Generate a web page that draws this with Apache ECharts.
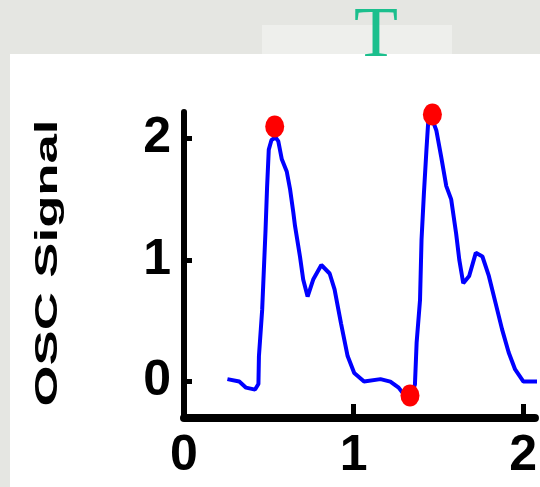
<!DOCTYPE html>
<html>
<head>
<meta charset="utf-8">
<script src="https://cdn.jsdelivr.net/npm/echarts@6/dist/echarts.min.js"></script>
<style>
  html, body {
    margin: 0;
    padding: 0;
    background: #e5e6e2;
  }
  .lite-box {
    position: absolute;
    left: 262px;
    top: 25px;
    width: 190px;
    height: 30px;
    background: #eeefec;
  }
  .panel {
    position: absolute;
    left: 10px;
    top: 54px;
    width: 530px;
    height: 433px;
    background: #ffffff;
  }
  #main {
    position: absolute;
    left: 0;
    top: 0;
    width: 540px;
    height: 487px;
  }
</style>
</head>
<body>
<div class="lite-box"></div>
<div class="panel"></div>
<div id="main"></div>
<script>
// 信号曲线
const sigX = [0.256, 0.326, 0.366, 0.419, 0.439, 0.442, 0.453, 0.461, 0.471, 0.481, 0.490, 0.500, 0.516, 0.540, 0.556, 0.577, 0.606, 0.626, 0.645, 0.655, 0.684, 0.703, 0.729, 0.762, 0.810, 0.859, 0.888, 0.926, 0.965, 1.004, 1.062, 1.159, 1.217, 1.266, 1.304, 1.333, 1.362, 1.368, 1.372, 1.392, 1.401, 1.415, 1.430, 1.440, 1.459, 1.488, 1.517, 1.547, 1.576, 1.605, 1.624, 1.647, 1.682, 1.721, 1.760, 1.798, 1.837, 1.876, 1.915, 1.953, 2.002, 2.070, 2.200];
const sigY = [0.02, 0.00, -0.05, -0.066, -0.02, 0.21, 0.43, 0.59, 0.92, 1.25, 1.60, 1.91, 1.99, 2.01, 1.98, 1.83, 1.73, 1.58, 1.39, 1.28, 1.03, 0.84, 0.70, 0.84, 0.96, 0.89, 0.76, 0.48, 0.21, 0.07, 0.00, 0.02, 0.00, -0.05, -0.12, -0.13, -0.025, 0.18, 0.32, 0.67, 1.17, 1.55, 1.91, 2.13, 2.18, 2.07, 1.85, 1.61, 1.50, 1.22, 1.00, 0.81, 0.87, 1.06, 1.03, 0.87, 0.65, 0.43, 0.24, 0.10, 0.00, 0.00, 0.00];

// 红点 (峰值和谷值)
const markX = [0.535, 1.465, 1.333];
const markY = [2.10, 2.20, -0.115];

const xTicks = [0, 1, 2];
const yTicks = [0, 1, 2];

const labelFont = '"Liberation Sans", Arial, sans-serif';

const chart = echarts.init(document.getElementById("main"));

const option = {
  backgroundColor: "transparent",
  animation: false,
  title: {
    text: "T",
    left: 349,
    top: -4,
    textStyle: {
      fontFamily: '"Liberation Serif", "DejaVu Serif", serif',
      fontSize: 72,
      fontWeight: "normal",
      color: "#1bbf8d",
    },
  },
  // 图在右边被裁掉, 横轴只画到 2.07
  grid: {
    left: 184,
    top: 112,
    width: 356,
    height: 306,
  },
  xAxis: {
    type: "value",
    min: 0,
    max: 2.07,
    splitLine: { show: false },
    axisLine: { onZero: false, lineStyle: { color: "#000", width: 8 } },
    axisTick: {
      inside: true,
      length: 14,
      customValues: xTicks,
      lineStyle: { color: "#000", width: 5 },
    },
    axisLabel: {
      customValues: xTicks,
      margin: 13,
      color: "#000",
      fontFamily: labelFont,
      fontWeight: "bold",
      fontSize: 50,
    },
  },
  yAxis: {
    type: "value",
    min: -0.3,
    max: 2.22,
    splitLine: { show: false },
    axisLine: { show: true, onZero: false, lineStyle: { color: "#000", width: 6 } },
    axisTick: {
      show: true,
      inside: true,
      length: 8,
      customValues: yTicks,
      lineStyle: { color: "#000", width: 5 },
    },
    axisLabel: {
      customValues: yTicks,
      margin: 13,
      color: "#000",
      fontFamily: labelFont,
      fontWeight: "bold",
      fontSize: 50,
    },
  },
  // 纵轴名称, 原图文字被拉长
  graphic: [
    {
      type: "text",
      x: 48,
      y: 263,
      rotation: Math.PI / 2,
      scaleX: 1.7,
      style: {
        text: "OSC Signal",
        font: 'bold 31px "Liberation Sans", Arial, sans-serif',
        fill: "#000",
        align: "center",
        verticalAlign: "middle",
      },
    },
  ],
  series: [
    {
      name: "signal",
      type: "line",
      showSymbol: false,
      data: sigX.map((x, i) => [x, sigY[i]]),
      lineStyle: { color: "#0000ff", width: 4 },
      z: 2,
    },
    {
      name: "marks",
      type: "scatter",
      symbol: "circle",
      symbolSize: [19, 22],
      data: markX.map((x, i) => [x, markY[i]]),
      itemStyle: { color: "#ff0000", opacity: 1 },
      z: 3,
    },
  ],
};

chart.setOption(option, true);
</script>
</body>
</html>
